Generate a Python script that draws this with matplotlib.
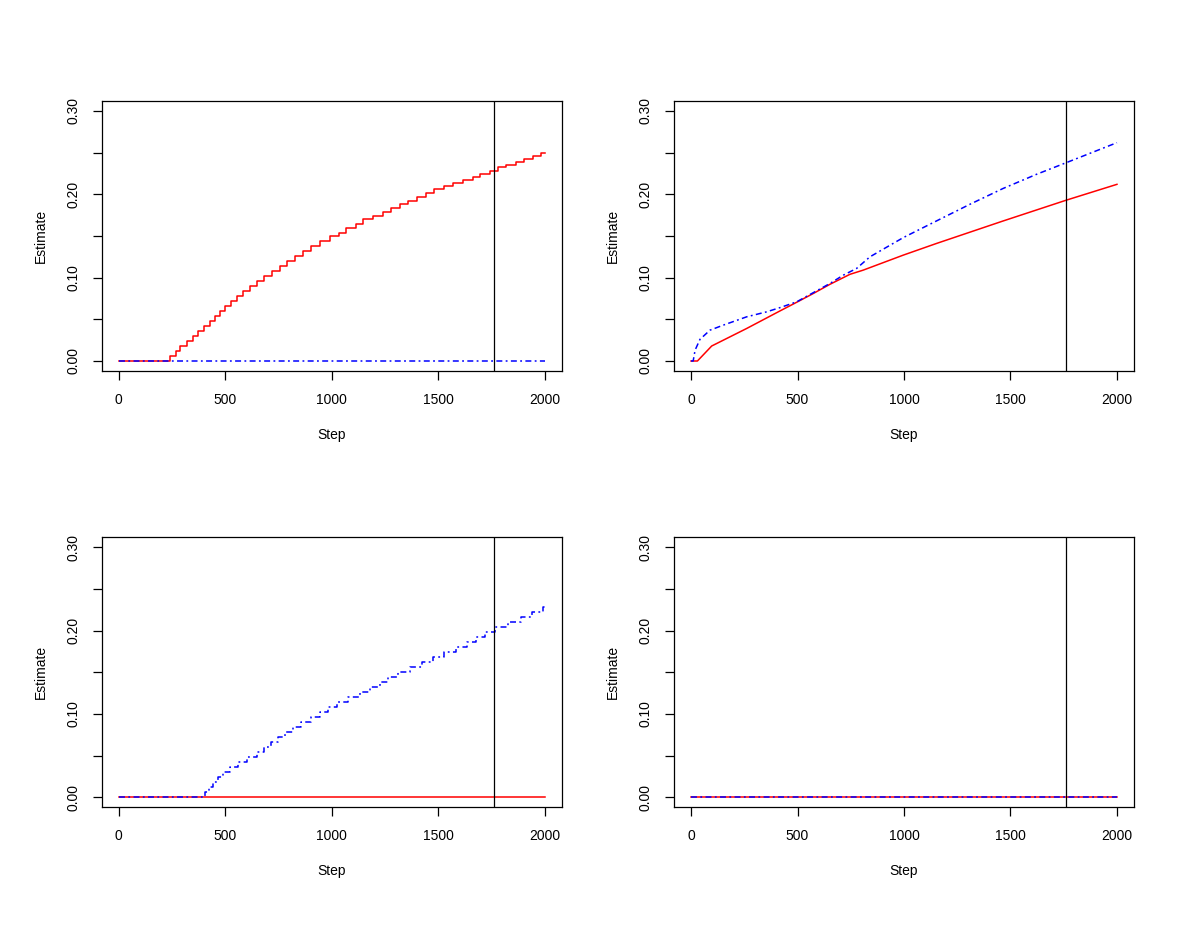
import numpy as np
import matplotlib
matplotlib.use("Agg")
from matplotlib import pyplot as plt

plt.rcParams['font.family'] = ['Liberation Sans', 'DejaVu Sans']
plt.rcParams['font.size'] = 10

n_steps = 2000
cut_step = 1760

# top left: red step estimate, blue stays at zero
red1_change = [243, 267, 290, 322, 348, 373, 400, 428, 451, 475, 498, 528, 553, 582,
               615, 650, 681, 720, 759, 790, 829, 863, 903, 943, 990, 1036, 1068, 1113,
               1146, 1193, 1240, 1279, 1321, 1360, 1402, 1443, 1480, 1527, 1571, 1615,
               1662, 1696, 1743, 1782, 1818, 1864, 1903, 1943, 1985]
red1_level = [0.006, 0.012, 0.018, 0.024, 0.030, 0.036, 0.042, 0.048, 0.054, 0.060,
              0.066, 0.072, 0.078, 0.084, 0.090, 0.096, 0.102, 0.108, 0.114, 0.120,
              0.126, 0.132, 0.138, 0.1435, 0.1495, 0.154, 0.1595, 0.165, 0.170, 0.1745,
              0.179, 0.184, 0.1885, 0.1926, 0.197, 0.2018, 0.206, 0.2097, 0.2137, 0.2173,
              0.2213, 0.2249, 0.2285, 0.2325, 0.2356, 0.2392, 0.2428, 0.2464, 0.2496]

# top right: two smoother estimates
red2_x = [0, 30, 97, 261, 417, 500, 574, 652, 746, 808, 996, 1152, 1465, 1762, 2000]
red2_y = [0, 0, 0.018, 0.039, 0.060, 0.071, 0.081, 0.092, 0.104, 0.109, 0.127, 0.141,
          0.168, 0.193, 0.212]
blue2_x = [0, 10, 19, 42, 89, 151, 261, 355, 417, 496, 574, 652, 715, 777, 840, 996,
           1152, 1309, 1465, 1622, 1762, 2000]
blue2_y = [0, 0, 0.013, 0.026, 0.037, 0.043, 0.053, 0.059, 0.064, 0.071, 0.082, 0.093,
           0.103, 0.111, 0.125, 0.148, 0.168, 0.188, 0.207, 0.224, 0.238, 0.262]

# bottom left: red stays at zero, blue step estimate
blue3_change = [404, 423, 443, 464, 491, 521, 559, 603, 650, 683, 716, 750, 783, 819,
                858, 903, 945, 981, 1024, 1075, 1133, 1180, 1225, 1264, 1310, 1368,
                1426, 1475, 1527, 1586, 1633, 1677, 1721, 1768, 1830, 1887, 1940, 1990]
blue3_level = [0.006, 0.012, 0.018, 0.024, 0.030, 0.036, 0.042, 0.048, 0.054, 0.060,
               0.066, 0.072, 0.078, 0.084, 0.090, 0.096, 0.102, 0.108, 0.114, 0.120,
               0.126, 0.132, 0.138, 0.144, 0.150, 0.156, 0.162, 0.168, 0.174, 0.180,
               0.186, 0.192, 0.198, 0.204, 0.210, 0.216, 0.222, 0.228]

x_ticks = [0, 500, 1000, 1500, 2000]
y_ticks = [0.0, 0.05, 0.10, 0.15, 0.20, 0.25, 0.30]
y_ticklabels = ['0.00', '', '0.10', '', '0.20', '', '0.30']

dotdash = (3.9, 2.2, 1.2, 2.2)
lw = 1.1


def steps(change, level):
    xs = np.r_[0, change, n_steps]
    ys = np.r_[0, level, level[-1]]
    return xs, ys


def zero_line():
    return [0, n_steps], [0, 0]


def style(ax):
    ax.set_xlim(-80, 2080)
    ax.set_ylim(-0.012, 0.312)
    ax.set_xticks(x_ticks)
    ax.set_yticks(y_ticks)
    ax.set_yticklabels(y_ticklabels, rotation=90, va='center')
    ax.tick_params(direction='out', length=6.5, width=0.9, pad=9)
    for s in ax.spines.values():
        s.set_linewidth(0.9)
    ax.axvline(cut_step, color='black', lw=0.9)
    ax.set_xlabel('Step')
    ax.xaxis.set_label_coords(0.5, -64 / 270)
    ax.xaxis.label.set_va('center')
    ax.set_ylabel('Estimate')
    ax.yaxis.set_label_coords(-61 / 460, 0.5)
    ax.yaxis.label.set_va('center')
    ax.yaxis.label.set_ha('center')


fig = plt.figure(figsize=(12, 9.27), dpi=100)
lefts = [101.7 / 1200, 674 / 1200]
bottoms = [1 - 371 / 927, 1 - 807.3 / 927]
w = 460 / 1200
h = 270 / 927

axes = [fig.add_axes([lefts[c], bottoms[r], w, h]) for r in range(2) for c in range(2)]

ax = axes[0]
ax.step(*steps(red1_change, red1_level), where='post', color='red', lw=lw)
ax.plot(*zero_line(), color='blue', lw=lw, dashes=dotdash)

ax = axes[1]
ax.plot(red2_x, red2_y, color='red', lw=lw)
ax.plot(blue2_x, blue2_y, color='blue', lw=lw, dashes=dotdash)

ax = axes[2]
ax.plot(*zero_line(), color='red', lw=lw)
ax.step(*steps(blue3_change, blue3_level), where='post', color='blue', lw=lw, dashes=dotdash)

ax = axes[3]
ax.plot(*zero_line(), color='red', lw=lw)
ax.plot(*zero_line(), color='blue', lw=lw, dashes=dotdash)

for ax in axes:
    style(ax)

fig.savefig('out.png', dpi=100)
